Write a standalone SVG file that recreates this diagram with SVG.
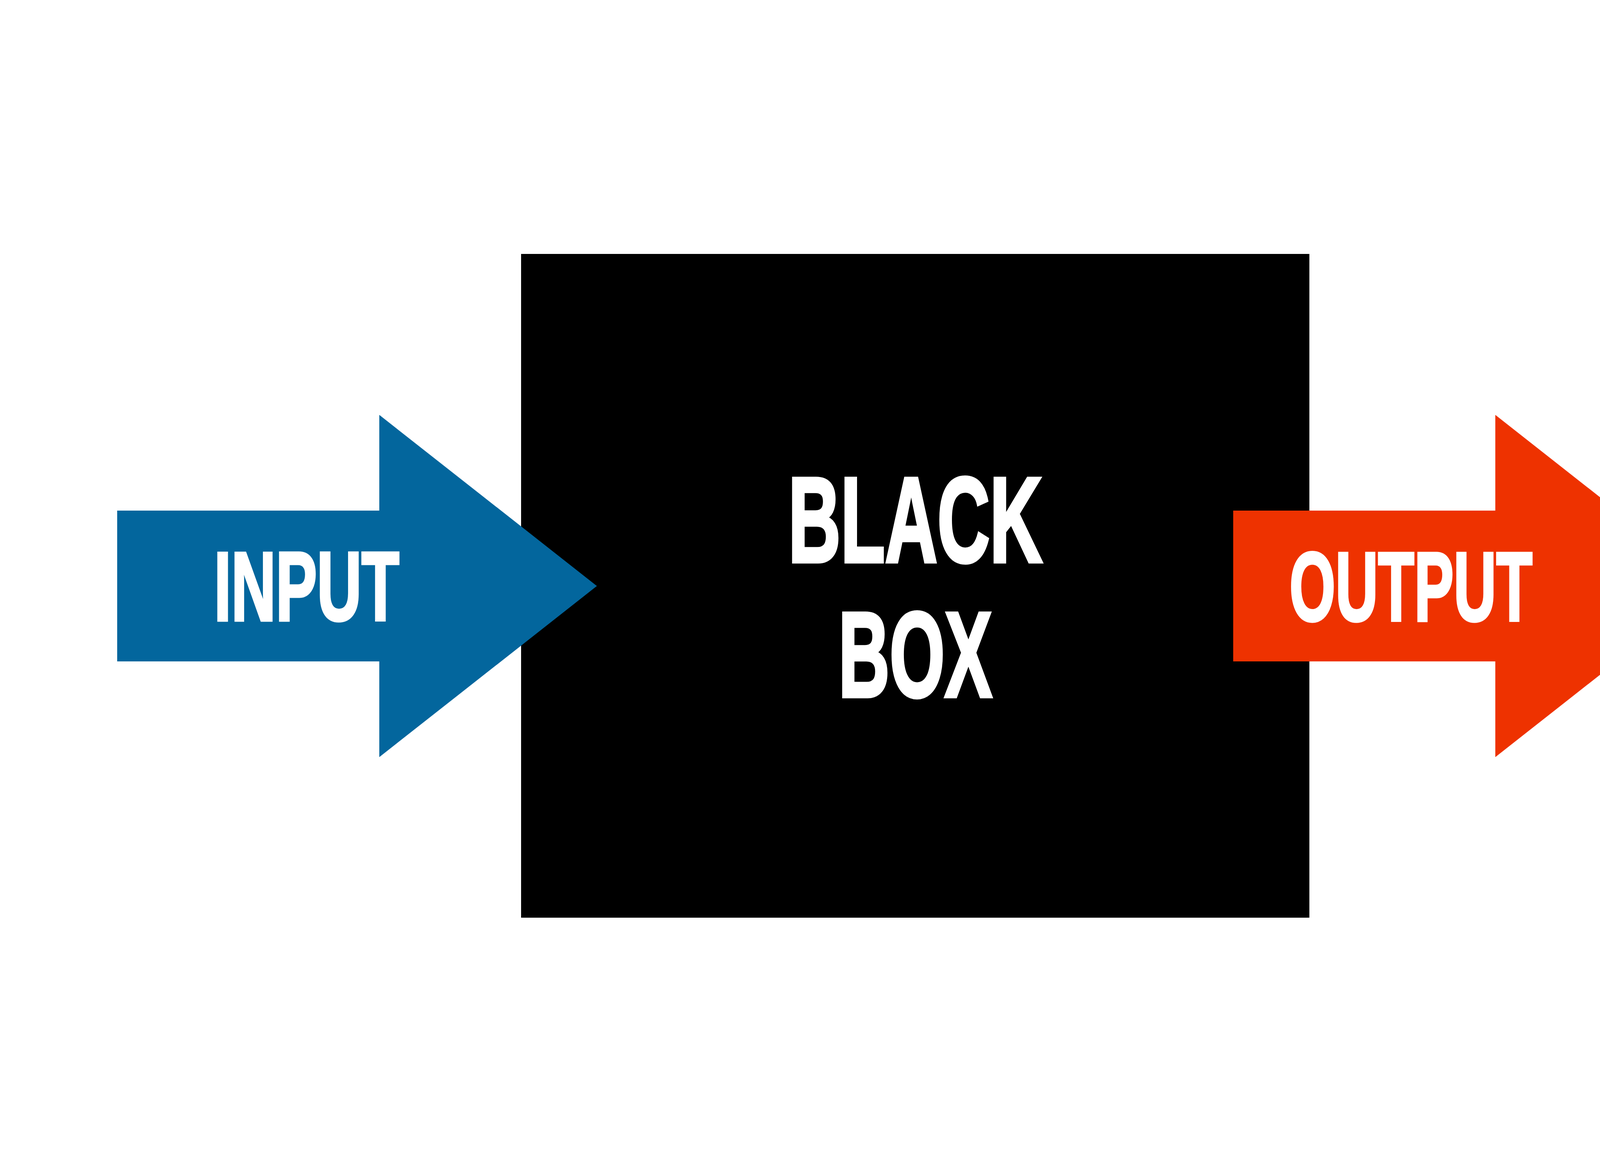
<svg xmlns="http://www.w3.org/2000/svg" width="4686" height="3000" viewBox="0 0 4686 3000">
  <style>
    .lbl { font-family: "Liberation Sans Narrow", "Liberation Sans", Arial, sans-serif; font-weight: bold; fill: #ffffff; stroke: #ffffff; stroke-linejoin: miter; text-anchor: middle; }
    .big { font-size: 310px; stroke-width: 9; }
    .small { font-size: 251px; stroke-width: 7; }
  </style>
  <rect x="0" y="0" width="4686" height="3000" fill="#ffffff"/>
  <g id="black-box">
    <rect x="1334" y="650" width="2018" height="1699" fill="#000000"/>
    <text class="lbl big" x="2343" y="1438" textLength="650" lengthAdjust="spacingAndGlyphs">BLACK</text>
    <text class="lbl big" x="2343" y="1783" textLength="393" lengthAdjust="spacingAndGlyphs">BOX</text>
  </g>
  <g id="connectors">
    <g id="input-arrow">
      <polygon points="300,1307 971,1307 971,1062 1528,1500 971,1938 971,1693 300,1693" fill="#03669D"/>
      <text class="lbl small" x="785" y="1588" textLength="474" lengthAdjust="spacingAndGlyphs">INPUT</text>
    </g>
    <g id="output-arrow">
      <polygon points="3157,1307 3828,1307 3828,1062 4385,1500 3828,1938 3828,1693 3157,1693" fill="#EE3200"/>
      <text class="lbl small" x="3612" y="1589" textLength="622" lengthAdjust="spacingAndGlyphs">OUTPUT</text>
    </g>
  </g>
</svg>
